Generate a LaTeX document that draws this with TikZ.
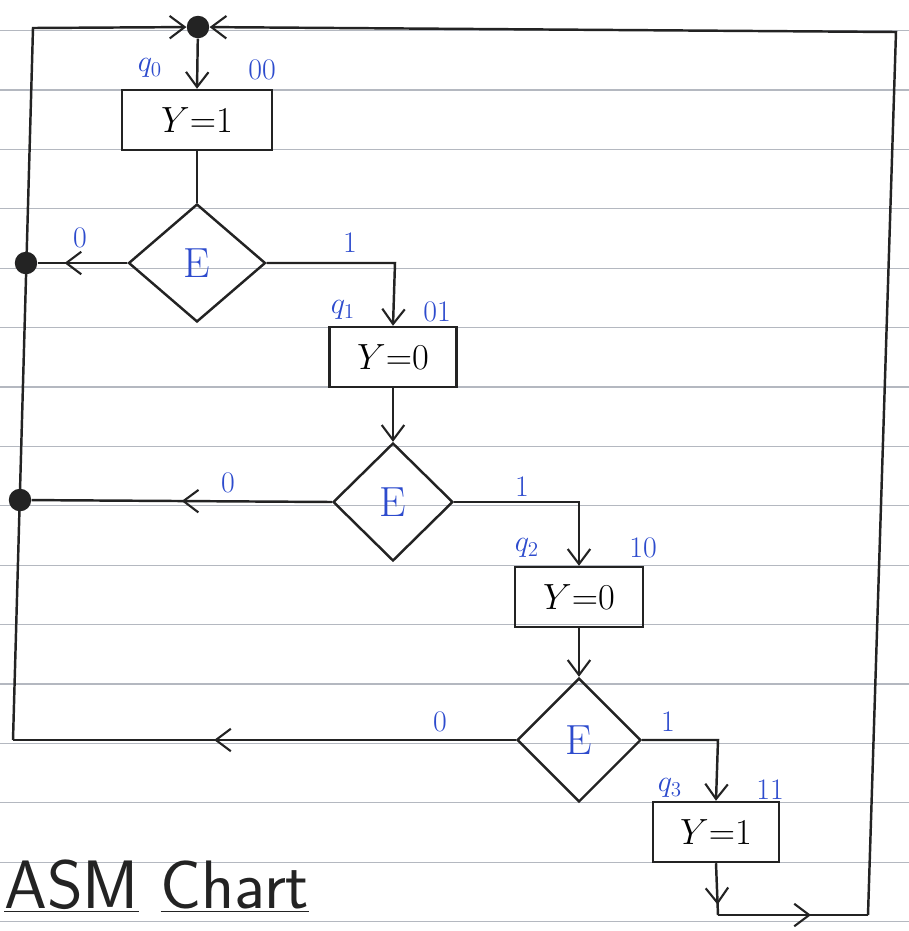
\documentclass[tikz,border=0pt]{standalone}
\usepackage{tikz}
\usetikzlibrary{shapes.geometric,arrows.meta,decorations.markings}
\definecolor{ink}{RGB}{35,35,35}
\definecolor{pen}{RGB}{45,75,205}
\definecolor{rule}{RGB}{180,184,192}

\tikzset{
  statebox/.style={draw=ink, line width=1.4pt, minimum height=1.2cm, inner sep=2pt,
    font=\fontsize{22}{24}\selectfont},
  decision/.style={draw=ink, diamond, line width=1.4pt, inner sep=0pt,
    text=pen, font=\fontsize{24}{26}\selectfont},
  tag/.style={text=pen, font=\fontsize{17}{19}\selectfont},
  flow/.style={draw=ink, line width=1.4pt},
  tip/.style={-{Straight Barb[length=3mm,width=4.5mm,line width=1.2pt]}},
  midarrow/.style={postaction={decorate}, decoration={markings,
    mark=at position #1 with {\arrow{Straight Barb[length=3mm,width=4.5mm,line width=1.2pt]}}}},
  junction/.style={circle, fill=ink, inner sep=0pt, minimum size=4.5mm}
}

\begin{document}
\begin{tikzpicture}[x=0.02cm, y=-0.02cm]
  \useasboundingbox (0,0) rectangle (909,931);

  % ruled paper
  \foreach \k in {-1,...,14}
    \draw[rule, line width=0.7pt] (0,{90+59.4*\k}) -- (909,{90+59.4*\k});

  % junctions and corners
  \node[junction] (j0) at (198,27) {};
  \node[junction] (j1) at (26,263) {};
  \node[junction] (j2) at (20,500) {};
  \coordinate (tl) at (33,28);
  \coordinate (bl) at (13,740);
  \coordinate (c1) at (395,263);
  \coordinate (c2) at (579,502);
  \coordinate (c3) at (718,740);
  \coordinate (b1) at (718,915);
  \coordinate (b2) at (868,915);
  \coordinate (tr) at (896,32);

  % states and decisions
  \node[statebox, minimum width=3cm] (s0) at (197,120) {$Y{=}1$};
  \node[decision, minimum width=2.74cm, minimum height=2.36cm] (d0) at (197,263) {E};
  \node[statebox, minimum width=2.54cm] (s1) at (393,357) {$Y{=}0$};
  \node[decision, minimum width=2.4cm, minimum height=2.36cm] (d1) at (393,502) {E};
  \node[statebox, minimum width=2.56cm] (s2) at (579,597) {$Y{=}0$};
  \node[decision, minimum width=2.48cm, minimum height=2.48cm] (d2) at (579,740) {E};
  \node[statebox, minimum width=2.52cm] (s3) at (716,832) {$Y{=}1$};

  % state names and codes
  \node[tag] (n0) at (150,68) {$q_0$};
  \node[tag] (k0) at (262,70) {00};
  \node[tag] (n1) at (343,310) {$q_1$};
  \node[tag] (k1) at (437,312) {01};
  \node[tag] (n2) at (527,548) {$q_2$};
  \node[tag] (k2) at (643,548) {10};
  \node[tag] (n3) at (670,788) {$q_3$};
  \node[tag] (k3) at (770,790) {11};

  % branch values
  \node[tag] (z0) at (80,238) {0};
  \node[tag] (o0) at (350,243) {1};
  \node[tag] (z1) at (228,483) {0};
  \node[tag] (o1) at (522,487) {1};
  \node[tag] (z2) at (440,722) {0};
  \node[tag] (o2) at (668,722) {1};

  % flow
  \draw[flow, tip] (j0) -- (s0.north);
  \draw[flow] (s0.south) -- (d0.north);
  \draw[flow, midarrow=0.7] (d0.west) -- (j1);
  \draw[flow, tip] (d0.east) -- (c1) -- (s1.north);
  \draw[flow, tip] (s1.south) -- (d1.north);
  \draw[flow, midarrow=0.5] (d1.west) -- (j2);
  \draw[flow, tip] (d1.east) -- (c2) -- (s2.north);
  \draw[flow, tip] (s2.south) -- (d2.north);
  \draw[flow, midarrow=0.6] (d2.west) -- (bl);
  \draw[flow, tip] (d2.east) -- (c3) -- (s3.north);
  \draw[flow, midarrow=0.8] (s3.south) -- (b1);
  \draw[flow, midarrow=0.62] (b1) -- (b2);
  \draw[flow, tip] (b2) -- (tr) -- (j0);
  \draw[flow, tip] (bl) -- (tl) -- (j0);

  % title
  \node[anchor=south west, inner sep=0pt, text=ink,
    font=\sffamily\fontsize{39}{43}\selectfont] (title) at (4,913)
    {\underline{ASM} \underline{Chart}};
\end{tikzpicture}
\end{document}
